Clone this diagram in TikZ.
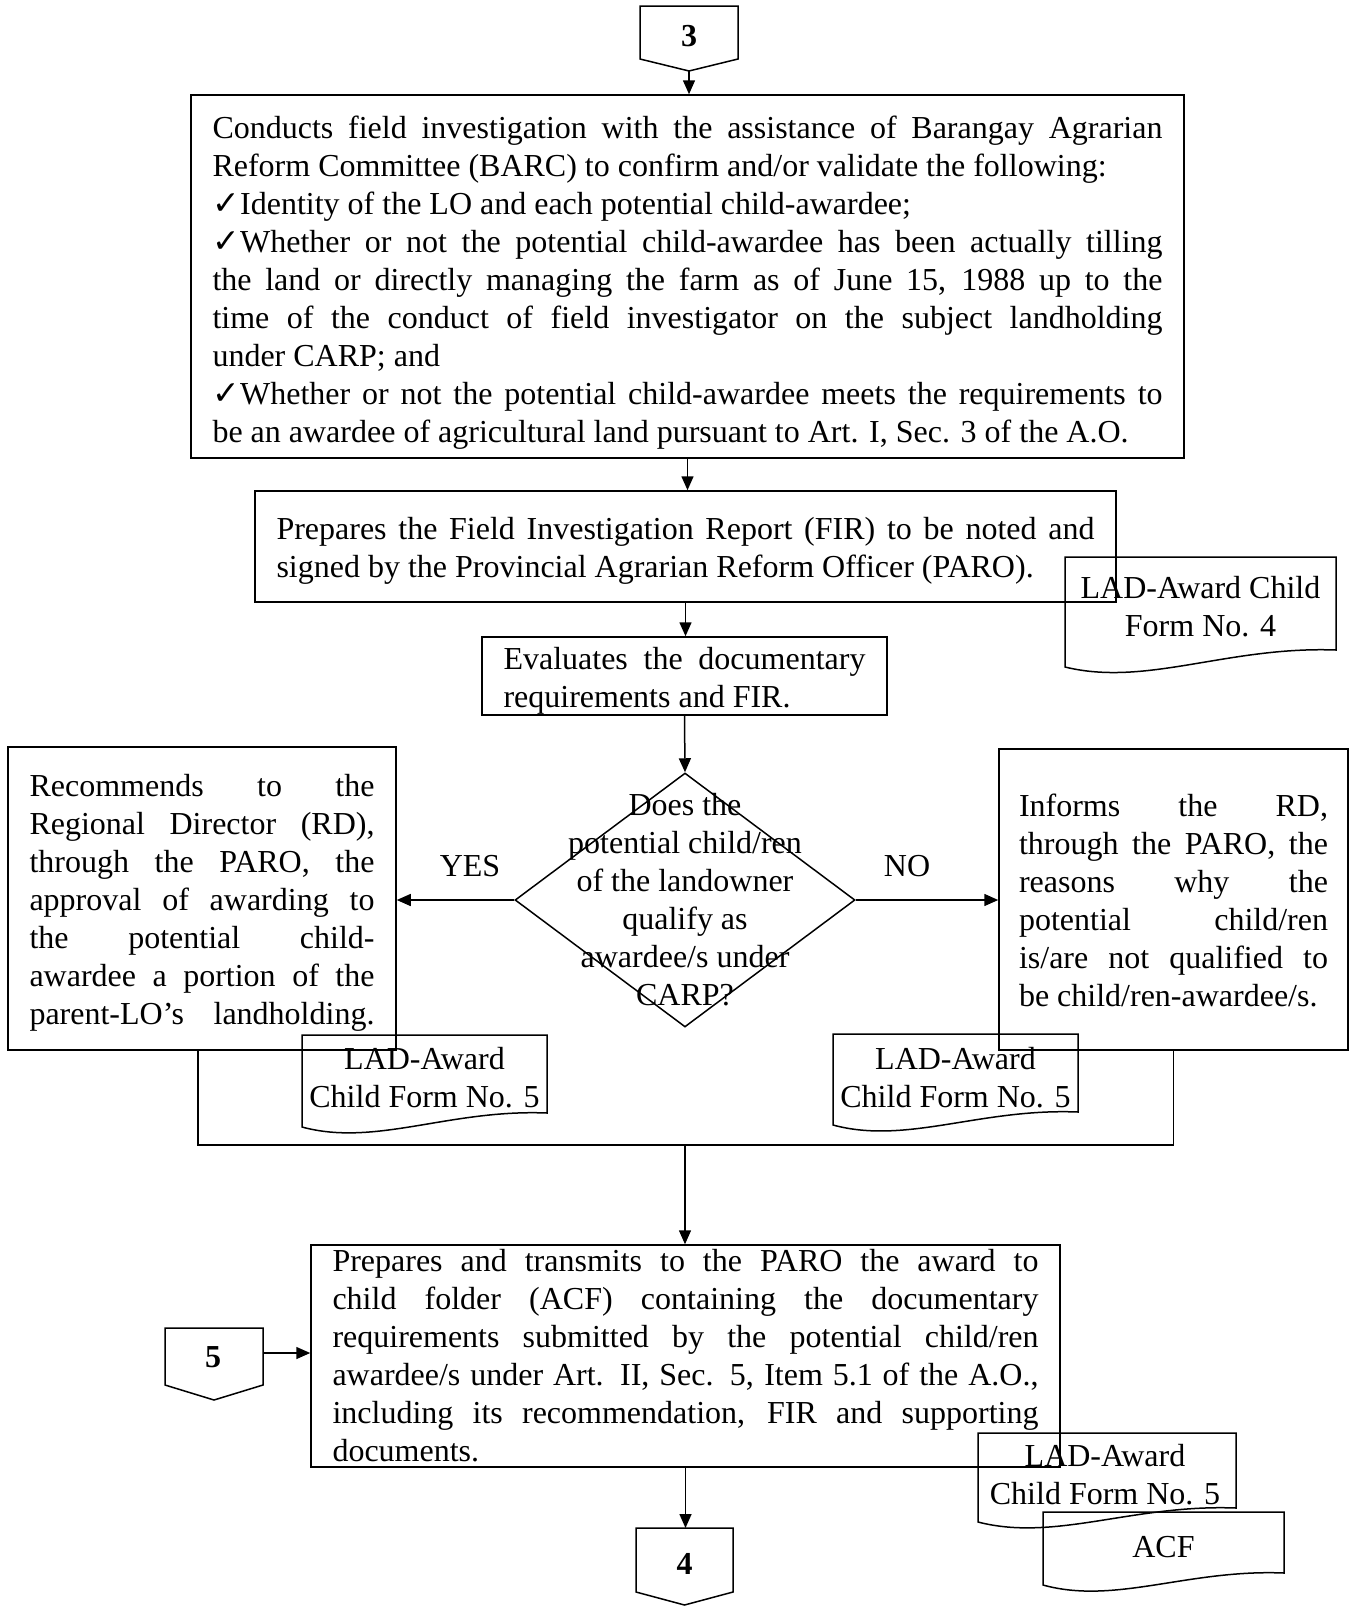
\documentclass[tikz,border=0pt]{standalone}
\usepackage{fontspec}
\setmainfont{Liberation Serif}
\newfontfamily\symfont{DejaVu Sans}
\usetikzlibrary{arrows.meta,shapes.geometric}
\setlength{\parindent}{0pt}
\newcommand{\chk}{{\symfont\fontsize{33}{33}\selectfont ✓}}
\newcommand{\topgap}[1]{\rule{0pt}{\dimexpr\fontcharht\font`\l+#1\relax}}
\newcommand{\docshape}[5]{%
  \draw[ln] (#1,#4) -- (#1,#2) -- (#3,#2) -- (#3,#5)
    .. controls ({#1+0.6*(#3-#1)},{#5-4}) and ({#1+0.3*(#3-#1)},{#4+20}) .. (#1,#4) -- cycle;}
\tikzset{
  ln/.style={line width=1.5pt},
  arr/.style={ln, -{Triangle[length=14pt,width=12pt]}},
  txt/.style={font=\fontsize{32}{38}\selectfont, inner sep=0pt},
  pbox/.style={txt, draw, ln, align=justify},
  numtxt/.style={font=\fontsize{32}{38}\selectfont\bfseries, inner sep=0pt},
}
\begin{document}
\begin{tikzpicture}[x=1pt,y=-1pt]
\useasboundingbox (0,0) rectangle (1351,1606);

% connector 3
\draw[ln] (640,6) -- (738,6) -- (738,59) -- (689,71) -- (640,59) -- cycle;
\coordinate (c3tip) at (689,71);
\node[numtxt] (c3) at (689,36) {3};

% box 1
\node[pbox, minimum width=993, minimum height=363, text width=950] (b1) at (687.5,276.5) {\topgap{13pt}Conducts field investigation with the assistance of Barangay Agrarian\linebreak Reform Committee (BARC) to confirm and/or validate the following:\par
\chk Identity of the LO and each potential child-awardee;\par
\chk Whether or not the potential child-awardee has been actually tilling\linebreak the land or directly managing the farm as of June 15, 1988 up to the\linebreak time of the conduct of field investigator on the subject landholding\linebreak under CARP; and\par
\chk Whether or not the potential child-awardee meets the requirements to\linebreak be an awardee of agricultural land pursuant to Art. I, Sec. 3 of the A.O.};
\draw[arr] (c3tip) -- (c3tip |- b1.north);

% box 2
\node[pbox, minimum width=861, minimum height=111, text width=818] (b2) at (685.5,546.5) {\topgap{10pt}Prepares the Field Investigation Report (FIR) to be noted and\linebreak signed by the Provincial Agrarian Reform Officer (PARO).};
\draw[arr] (b1.south) -- (b1.south |- b2.north);

% form 4
\docshape{1065}{557}{1336}{667}{650}
\node[txt, align=center] (f4) at (1200.5,607) {LAD-Award Child\\Form No. 4};

% box 3
\node[pbox, minimum width=405, minimum height=78, text width=362] (b3) at (684.5,676) {\topgap{10pt}Evaluates the documentary\linebreak requirements and FIR.};
\draw[arr] (b2.south) -- (b2.south |- b3.north);

% decision
\node[diamond, draw, ln, minimum width=340, minimum height=254, inner sep=0pt] (dec) at (685,900) {};
\node[txt, align=center] (dect) at (685,900) {Does the\\potential child/ren\\of the landowner\\qualify as\\awardee/s under\\CARP?};
\draw[arr] (b3.south) -- (dec.north);

% left box
\node[pbox, minimum width=388, minimum height=303, text width=345] (lb) at (202,898.5) {\parfillskip=0pt \topgap{10pt}Recommends to the\linebreak Regional Director (RD),\linebreak through the PARO, the\linebreak approval of awarding to\linebreak the potential child-\linebreak awardee a portion of the\linebreak parent-LO’s landholding.\par};
% right box
\node[pbox, minimum width=349, minimum height=301, text width=309] (rb) at (1173.5,899.5) {\topgap{3pt}Informs the RD,\linebreak through the PARO, the\linebreak reasons why the\linebreak potential child/ren\linebreak is/are not qualified to\linebreak be child/ren-awardee/s.};

\draw[arr] (dec.west) -- (dec.west -| lb.east);
\draw[arr] (dec.east) -- (dec.east -| rb.west);
\node[txt] (yes) at (470,866) {YES};
\node[txt] (no) at (907,866) {NO};

% form 5 docs
\docshape{302}{1035}{547}{1127}{1113}
\node[txt, align=center] (f5l) at (424.5,1078) {LAD-Award\\Child Form No. 5};
\docshape{833}{1034}{1078}{1125}{1112}
\node[txt, align=center] (f5r) at (955.5,1077.5) {LAD-Award\\Child Form No. 5};

% merge
\coordinate (m) at (685,1145);
\draw[ln] ([xshift=-4pt]lb.south) |- (m) -| (rb.south);

% bottom box
\node[pbox, minimum width=749, minimum height=222, text width=706] (bb) at (685.5,1356) {Prepares and transmits to the PARO the award to\linebreak child folder (ACF) containing the documentary\linebreak requirements submitted by the potential child/ren\linebreak awardee/s under Art. II, Sec. 5, Item 5.1 of the A.O.,\linebreak including its recommendation, FIR and supporting\linebreak documents.};
\draw[arr] (m) -- (m |- bb.north);

% connector 5
\draw[ln] (165,1328) -- (263,1328) -- (263,1385) -- (214,1400) -- (165,1385) -- cycle;
\node[numtxt] (c5) at (213,1357) {5};
\coordinate (c5r) at (263,1353);
\draw[arr] (c5r) -- (c5r -| bb.west);

% bottom docs
\docshape{978}{1433}{1236}{1522}{1508}
\node[txt, align=center] (f5b) at (1105,1474.5) {LAD-Award\\Child Form No. 5};
\docshape{1043}{1512}{1284}{1585}{1573}
\node[txt] (acf) at (1163.5,1547) {ACF};

% connector 4
\coordinate (c4top) at (684.5,1528);
\draw[ln] (636,1528) -- (733,1528) -- (733,1592) -- (684.5,1605) -- (636,1592) -- cycle;
\node[numtxt] (c4) at (684.5,1564) {4};
\draw[arr] (bb.south) -- (bb.south |- c4top);
\end{tikzpicture}
\end{document}
